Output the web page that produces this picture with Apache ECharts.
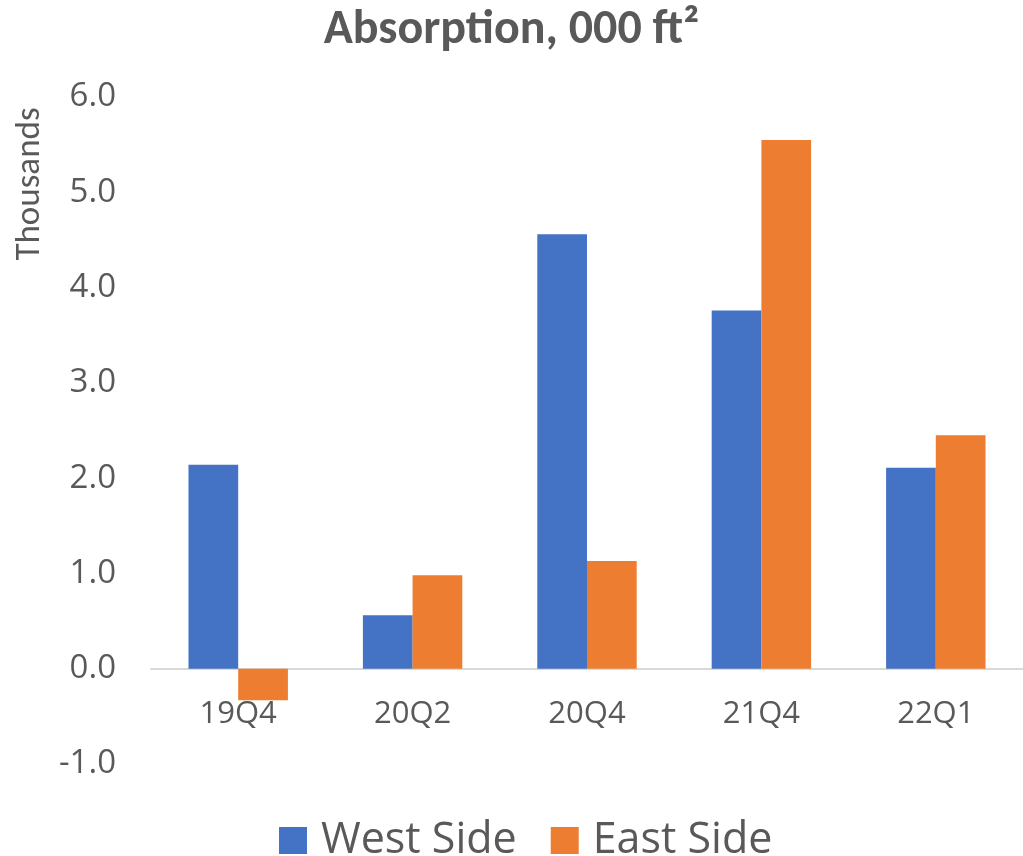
<!DOCTYPE html>
<html>
<head>
<meta charset="utf-8">
<script src="https://cdn.jsdelivr.net/npm/echarts@6/dist/echarts.min.js"></script>
<style>
  html, body { margin: 0; padding: 0; background: #fff; }
  #chart { width: 1023px; height: 856px; }
</style>
</head>
<body>
<div id="chart"></div>
<script>
// quarters on the x axis
const quarters = ['19Q4', '20Q2', '20Q4', '21Q4', '22Q1']
// absorption, thousands of 000 ft2
const westSide = [2.14, 0.56, 4.56, 3.76, 2.11]
const eastSide = [-0.33, 0.98, 1.13, 5.55, 2.45]
const yMin = -1
const yMax = 6
const yStep = 1

const titleFont = 'Carlito, Calibri, "Liberation Sans", sans-serif'
const font = '"Open Sans", "Segoe UI", "Noto Sans", sans-serif'
const grey = '#595959'

const chart = echarts.init(document.getElementById('chart'))
const option = {
  animation: false,
  backgroundColor: '#fff',
  color: ['#4472C4', '#ED7D31'],
  textStyle: { fontFamily: font, color: grey },
  title: {
    text: 'Absorption, 000 ft²',
    left: 'center',
    top: 2,
    textStyle: { fontFamily: titleFont, fontSize: 48, fontWeight: 'bold', color: grey }
  },
  graphic: [{
    type: 'text',
    x: 30,
    y: 184,
    rotation: Math.PI / 2,
    style: {
      text: 'Thousands',
      fontFamily: titleFont,
      fontSize: 35,
      fill: grey,
      align: 'center',
      verticalAlign: 'middle'
    }
  }],
  legend: {
    data: ['West Side', 'East Side'],
    top: 814,
    left: 274,
    itemWidth: 28,
    itemHeight: 27,
    itemGap: 34,
    icon: 'rect',
    textStyle: { fontFamily: font, fontSize: 43, color: grey, padding: [0, 0, 0, 9] }
  },
  grid: { left: 151, top: 97, bottom: 92, width: 880, containLabel: false },
  xAxis: {
    type: 'category',
    data: quarters,
    axisLine: { onZero: true, lineStyle: { color: '#d9d9d9', width: 2 } },
    axisTick: { show: false },
    axisLabel: { fontFamily: font, fontSize: 31, color: grey, margin: -65 }
  },
  yAxis: {
    type: 'value',
    min: yMin,
    max: yMax,
    interval: yStep,
    axisLine: { show: false },
    axisTick: { show: false },
    splitLine: { show: false },
    axisLabel: {
      fontFamily: font,
      fontSize: 33,
      color: grey,
      margin: 35,
      formatter: v => v.toFixed(1)
    }
  },
  series: [
    { name: 'West Side', type: 'bar', data: westSide, barGap: '0%', barCategoryGap: '43%' },
    { name: 'East Side', type: 'bar', data: eastSide, barGap: '0%', barCategoryGap: '43%' }
  ]
}
chart.setOption(option)
</script>
</body>
</html>
